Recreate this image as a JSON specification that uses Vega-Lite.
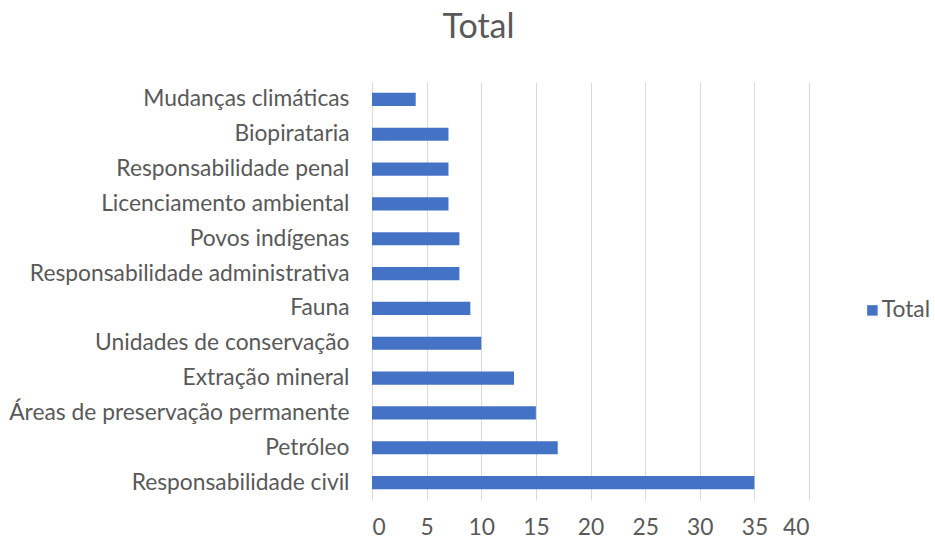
{
  "$schema": "https://vega.github.io/schema/vega-lite/v6.json",
  "autosize": "none",
  "width": 437,
  "height": 418,
  "padding": {"left": 372, "top": 82, "right": 126, "bottom": 41},
  "background": "white",
  "title": {
    "text": "Total",
    "fontSize": 34,
    "font": "Lato",
    "fontWeight": "normal",
    "color": "#595959",
    "anchor": "middle",
    "dx": -112,
    "offset": 37
  },
  "data": {
    "values": [
      {"tema": "Mudanças climáticas", "valor": 4, "serie": "Total"},
      {"tema": "Biopirataria", "valor": 7, "serie": "Total"},
      {"tema": "Responsabilidade penal", "valor": 7, "serie": "Total"},
      {"tema": "Licenciamento ambiental", "valor": 7, "serie": "Total"},
      {"tema": "Povos indígenas", "valor": 8, "serie": "Total"},
      {"tema": "Responsabilidade administrativa", "valor": 8, "serie": "Total"},
      {"tema": "Fauna", "valor": 9, "serie": "Total"},
      {"tema": "Unidades de conservação", "valor": 10, "serie": "Total"},
      {"tema": "Extração mineral", "valor": 13, "serie": "Total"},
      {"tema": "Áreas de preservação permanente", "valor": 15, "serie": "Total"},
      {"tema": "Petróleo", "valor": 17, "serie": "Total"},
      {"tema": "Responsabilidade civil", "valor": 35, "serie": "Total"}
    ]
  },
  "mark": {"type": "bar"},
  "encoding": {
    "y": {
      "field": "tema",
      "type": "nominal",
      "sort": null,
      "title": null,
      "scale": {"paddingInner": 0.62, "paddingOuter": 0.31},
      "axis": {
        "domain": false,
        "ticks": false,
        "labelPadding": 23,
        "labelFont": "Lato",
        "labelFontSize": 22.8,
        "labelColor": "#595959",
        "labelLimit": 400
      }
    },
    "x": {
      "field": "valor",
      "type": "quantitative",
      "title": null,
      "scale": {"domain": [0, 40], "nice": false},
      "axis": {
        "values": [0, 5, 10, 15, 20, 25, 30, 35, 40],
        "domain": false,
        "ticks": false,
        "grid": true,
        "gridColor": "#D9D9D9",
        "gridWidth": 1,
        "labelPadding": 16,
        "labelFont": "Lato",
        "labelFontSize": 22.8,
        "labelColor": "#595959"
      }
    },
    "color": {
      "field": "serie",
      "type": "nominal",
      "scale": {"range": ["#4472C4"]},
      "legend": {
        "title": null,
        "orient": "none",
        "legendX": 489,
        "legendY": 217,
        "symbolType": "square",
        "symbolSize": 110,
        "symbolStrokeWidth": 0,
        "labelFont": "Lato",
        "labelFontSize": 22.8,
        "labelColor": "#595959",
        "labelOffset": -2
      }
    }
  },
  "config": {"view": {"stroke": null}}
}
